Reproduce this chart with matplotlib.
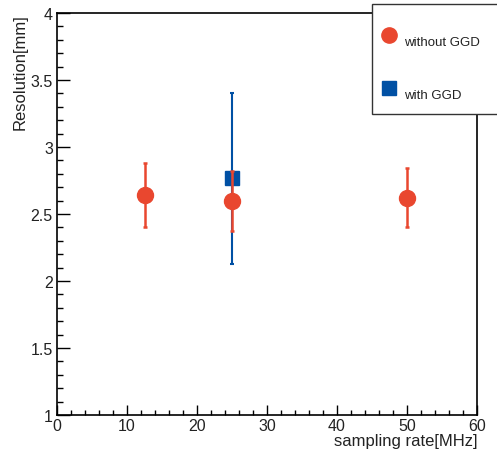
import matplotlib
matplotlib.use("Agg")
import matplotlib.pyplot as plt
from matplotlib.lines import Line2D
from matplotlib.patches import Rectangle
from matplotlib.ticker import MultipleLocator

plt.rcParams['font.family'] = ['Liberation Sans', 'DejaVu Sans']

# data
rate_wo = [12.5, 25.0, 50.0]
res_wo = [2.64, 2.60, 2.62]
err_wo_lo = [0.24, 0.23, 0.22]
err_wo_hi = [0.24, 0.22, 0.22]

rate_w = [25.0]
res_w = [2.77]
err_w_lo = [0.64]
err_w_hi = [0.63]

red = '#E9472F'
blue = '#0050A4'
txt = '#222222'

W, H = 497, 452
fig = plt.figure(figsize=(W/100, H/100), dpi=100)
ax = fig.add_axes([57/W, (H-416)/H, 420/W, 402/H])

ax.errorbar(rate_w, res_w, yerr=[err_w_lo, err_w_hi], fmt='s', color=blue,
            ms=10, elinewidth=1.5, capsize=1.3, capthick=1.5, zorder=3)
ax.errorbar(rate_wo, res_wo, yerr=[err_wo_lo, err_wo_hi], fmt='o', color=red,
            ms=11.5, elinewidth=1.8, capsize=1.6, capthick=1.8, zorder=4)

ax.set_xlim(0, 60)
ax.set_ylim(1, 4)
ax.xaxis.set_major_locator(MultipleLocator(10))
ax.xaxis.set_minor_locator(MultipleLocator(2))
ax.yaxis.set_minor_locator(MultipleLocator(0.1))
ax.set_yticks([1, 1.5, 2, 2.5, 3, 3.5, 4])
ax.set_yticklabels(['1', '1.5', '2', '2.5', '3', '3.5', '4'])
ax.tick_params(which='both', direction='in', top=False, right=False,
               labelsize=11.5, width=1, labelcolor=txt)
ax.tick_params(axis='x', which='major', length=7.5, pad=2)
ax.tick_params(axis='x', which='minor', length=3.6)
ax.tick_params(axis='y', which='major', length=9, pad=3)
ax.tick_params(axis='y', which='minor', length=4.2)
for s in ax.spines.values():
    s.set_linewidth(1.2)

ax.set_xlabel('sampling rate[MHz]', fontsize=12, loc='right', labelpad=0, color=txt)
ax.set_ylabel('Resolution[mm]', fontsize=12, loc='top', labelpad=2, color=txt)

# legend box (ROOT TLegend style), extends past figure edge
def fx(x): return x / W
def fy(y): return 1 - y / H
rect = Rectangle((fx(372), fy(115)), fx(500) - fx(372), fy(5) - fy(115),
                 transform=fig.transFigure, facecolor='white', edgecolor='#333333',
                 linewidth=1.0, clip_on=False, zorder=10)
fig.add_artist(rect)
fig.add_artist(Line2D([fx(389)], [fy(36)], marker='o', color=red, ms=11,
                      linestyle='none', transform=fig.transFigure, zorder=11))
fig.add_artist(Line2D([fx(389)], [fy(89)], marker='s', color=blue, ms=10,
                      linestyle='none', transform=fig.transFigure, zorder=11))
fig.text(fx(404), fy(43), 'without GGD', fontsize=9.5, va='center', ha='left',
         color=txt, zorder=12)
fig.text(fx(404), fy(96), 'with GGD', fontsize=9.5, va='center', ha='left',
         color=txt, zorder=12)

fig.savefig('out.png', dpi=100)
